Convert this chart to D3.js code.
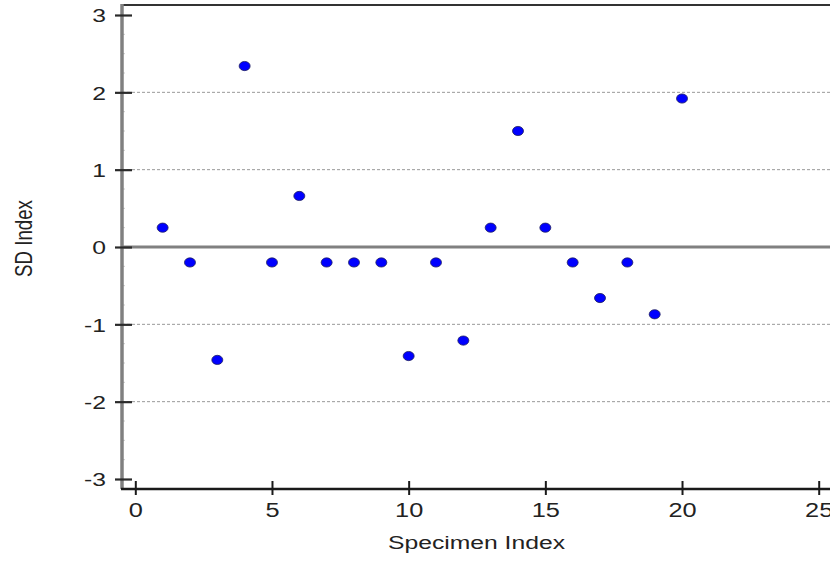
<!DOCTYPE html>
<html>
<head>
<meta charset="utf-8">
<script src="https://cdn.jsdelivr.net/npm/d3@7"></script>
<style>
  body { margin: 0; background: #fff; }
  text { font-family: "Liberation Sans", Arial, sans-serif; fill: #222; }
</style>
</head>
<body>
<div class="chart"></div>
<script>
// Data
var specimenIndex = [1, 2, 3, 4, 5, 6, 7, 8, 9, 10, 11, 12, 13, 14, 15, 16, 17, 18, 19, 20];
var sdIndex = [0.25, -0.2, -1.46, 2.34, -0.2, 0.66, -0.2, -0.2, -0.2, -1.41,
               -0.2, -1.21, 0.25, 1.5, 0.25, -0.2, -0.66, -0.2, -0.87, 1.92];
var xTicks = [0, 5, 10, 15, 20, 25];
var yTicks = [-3, -2, -1, 0, 1, 2, 3];
var gridValues = [-2, -1, 1, 2];

var svgWidth = 830;
var svgHeight = 561;

// plot frame (the source image is stretched sideways, so text gets a scaleX)
var frameLeft = 122, frameTop = 5, frameBottom = 489, frameRight = 830;
var stretch = 1.3;

var svg = d3.select(".chart")
  .append("svg")
  .attr("width", svgWidth)
  .attr("height", svgHeight);

var x = d3.scaleLinear().domain([0, 25]).range([135.3, 818.7]);
var y = d3.scaleLinear().domain([-3, 3]).range([479, 15]);

var points = specimenIndex.map((d, i) => ({ x: d, y: sdIndex[i] }));

// dashed grid lines
svg.append("g")
  .selectAll("line")
  .data(gridValues)
  .enter()
  .append("line")
  .attr("x1", frameLeft)
  .attr("x2", frameRight)
  .attr("y1", d => y(d))
  .attr("y2", d => y(d))
  .attr("stroke", "#999")
  .attr("stroke-width", 1)
  .attr("stroke-dasharray", "3,2");

// zero line
svg.append("line")
  .attr("x1", frameLeft)
  .attr("x2", frameRight)
  .attr("y1", y(0))
  .attr("y2", y(0))
  .attr("stroke", "#808080")
  .attr("stroke-width", 3);

// top border
svg.append("line")
  .attr("x1", frameLeft)
  .attr("x2", frameRight)
  .attr("y1", frameTop)
  .attr("y2", frameTop)
  .attr("stroke", "#333")
  .attr("stroke-width", 2);

// minor ticks on the y axis
svg.append("g")
  .selectAll("line")
  .data(d3.range(-3, 3.01, 0.25).filter(v => Math.abs(v - Math.round(v)) > 0.01))
  .enter()
  .append("line")
  .attr("x1", frameLeft + 1)
  .attr("x2", frameLeft + 3)
  .attr("y1", d => y(d))
  .attr("y2", d => y(d))
  .attr("stroke", "#ccc")
  .attr("stroke-width", 1);

// y axis line
svg.append("line")
  .attr("x1", frameLeft)
  .attr("x2", frameLeft)
  .attr("y1", frameTop - 1)
  .attr("y2", frameBottom)
  .attr("stroke", "#808080")
  .attr("stroke-width", 3.5);

// x axis line
svg.append("line")
  .attr("x1", frameLeft - 1)
  .attr("x2", frameRight)
  .attr("y1", frameBottom)
  .attr("y2", frameBottom)
  .attr("stroke", "#1a1a1a")
  .attr("stroke-width", 2.5);

// y axis ticks and labels
var leftAxis = d3.axisLeft(y).tickValues(yTicks).tickFormat(d3.format("d"));
var yAxisGroup = svg.append("g")
  .attr("transform", `translate(${frameLeft}, 0)`)
  .call(leftAxis);
yAxisGroup.select(".domain").remove();
yAxisGroup.selectAll(".tick line")
  .attr("x1", -7)
  .attr("x2", 10)
  .attr("stroke", "#2a2a2a")
  .attr("stroke-width", 2.2);
yAxisGroup.selectAll(".tick text")
  .attr("x", null)
  .attr("dy", "0.36em")
  .attr("transform", `translate(-16, 0) scale(${stretch}, 1)`)
  .style("font-size", "19px")
  .style("font-family", "Liberation Sans, Arial, sans-serif")
  .attr("fill", "#222")
  .text(d => d < 0 ? "-" + Math.abs(d) : d);

// x axis ticks and labels
var bottomAxis = d3.axisBottom(x).tickValues(xTicks).tickFormat(d3.format("d"));
var xAxisGroup = svg.append("g")
  .attr("transform", `translate(0, ${frameBottom})`)
  .call(bottomAxis);
xAxisGroup.select(".domain").remove();
xAxisGroup.selectAll(".tick line")
  .attr("y1", -8)
  .attr("y2", 6)
  .attr("stroke", "#1a1a1a")
  .attr("stroke-width", 2);
xAxisGroup.selectAll(".tick text")
  .attr("y", null)
  .attr("dy", null)
  .attr("transform", `translate(0, 28) scale(${stretch}, 1)`)
  .style("font-size", "19.5px")
  .style("font-family", "Liberation Sans, Arial, sans-serif")
  .attr("fill", "#222");

// points
svg.append("g")
  .selectAll("ellipse")
  .data(points)
  .enter()
  .append("ellipse")
  .attr("cx", d => x(d.x))
  .attr("cy", d => y(d.y))
  .attr("rx", 5.5)
  .attr("ry", 4.6)
  .attr("fill", "#0000ff")
  .attr("stroke", "#202060")
  .attr("stroke-width", 0.8);

// axis titles
svg.append("text")
  .attr("transform", `translate(476.5, 549) scale(${stretch}, 1)`)
  .attr("text-anchor", "middle")
  .style("font-size", "19px")
  .text("Specimen Index");

svg.append("text")
  .attr("transform", `translate(32, 238.5) scale(${stretch}, 1) rotate(-90)`)
  .attr("text-anchor", "middle")
  .style("font-size", "18.7px")
  .text("SD Index");
</script>
</body>
</html>
